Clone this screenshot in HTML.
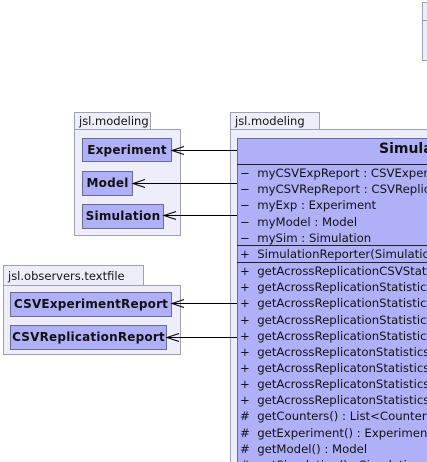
<!DOCTYPE html>
<html style="overflow:hidden;width:427px;height:462px"><head><meta charset="utf-8"><style>
body{margin:0;width:427px;height:462px;overflow:hidden;background:#fff;position:relative;font-family:"DejaVu Sans","Liberation Sans",sans-serif;}
div{position:absolute;box-sizing:border-box;}
.tab{background:#eeeefa;border:1px solid #a0a0b4;border-bottom:none;font-size:11.5px;color:#111;padding:1px 0 0 4px;}
.pkg{background:#eeeefa;border:1px solid #a0a0b4;}
.cls{background:#b0b0f8;border:1px solid #6a6a9a;font-weight:bold;font-size:12px;letter-spacing:0.2px;color:#111;text-align:center;line-height:23px;white-space:nowrap;overflow:hidden;}
.row{left:240px;width:187px;overflow:hidden;font-size:11.7px;color:#111;white-space:nowrap;height:16px;line-height:16px;}
.sep{height:1px;background:#222;left:237px;width:190px;}
</style></head><body>
<div style="left:422px;top:2px;width:5px;height:59px;border:1px solid #a0a0b4;border-right:none;background:#eeeefa"></div>
<div style="left:422px;top:20px;width:5px;height:1px;background:#a0a0b4"></div>

<div class="tab" style="left:74px;top:112px;width:77px;height:18px">jsl.modeling</div>
<div class="pkg" style="left:74px;top:129px;width:107px;height:107px"></div>
<div class="cls" style="left:82px;top:138px;width:90px;height:24px">Experiment</div>
<div class="cls" style="left:82px;top:171px;width:51px;height:25px">Model</div>
<div class="cls" style="left:82px;top:204px;width:82px;height:25px">Simulation</div>

<div class="tab" style="left:3px;top:265px;width:141px;height:21px;padding-top:3px">jsl.observers.textfile</div>
<div class="pkg" style="left:3px;top:285px;width:178px;height:70px"></div>
<div class="cls" style="left:10px;top:292px;width:162px;height:25px">CSVExperimentReport</div>
<div class="cls" style="left:10px;top:325px;width:157px;height:25px">CSVReplicationReport</div>

<div class="tab" style="left:230px;top:112px;width:90px;height:18px">jsl.modeling</div>
<div class="pkg" style="left:230px;top:129px;width:197px;height:333px;border-right:none;border-bottom:none"></div>
<div style="left:237px;top:138px;width:190px;height:324px;background:#b0b0f8;border-left:1px solid #6a6a9a;border-top:1px solid #6a6a9a;"></div>
<div style="left:379px;top:141px;width:48px;overflow:hidden;font-weight:bold;font-size:14px;color:#111;white-space:nowrap;">Simulation</div>
<div class="sep" style="top:164px"></div>
<div class="sep" style="top:245px"></div>
<div class="sep" style="top:262px"></div>
<div class="row" style="top:165px">−&nbsp; myCSVExpReport : CSVExperimentReport</div>
<div class="row" style="top:181px">−&nbsp; myCSVRepReport : CSVReplicationReport</div>
<div class="row" style="top:197px">−&nbsp; myExp : Experiment</div>
<div class="row" style="top:214px">−&nbsp; myModel : Model</div>
<div class="row" style="top:230px">−&nbsp; mySim : Simulation</div>
<div class="row" style="top:246px">+&nbsp; SimulationReporter(Simulation)</div>
<div class="row" style="top:263px">+&nbsp; getAcrossReplicationCSVStatistics</div>
<div class="row" style="top:279px">+&nbsp; getAcrossReplicationStatistics()</div>
<div class="row" style="top:295px">+&nbsp; getAcrossReplicationStatistics()</div>
<div class="row" style="top:312px">+&nbsp; getAcrossReplicationStatisticsAs</div>
<div class="row" style="top:328px">+&nbsp; getAcrossReplicationStatisticsAs</div>
<div class="row" style="top:344px">+&nbsp; getAcrossReplicatonStatisticsAs</div>
<div class="row" style="top:360px">+&nbsp; getAcrossReplicatonStatisticsAs</div>
<div class="row" style="top:376px">+&nbsp; getAcrossReplicatonStatisticsAs</div>
<div class="row" style="top:392px">+&nbsp; getAcrossReplicatonStatisticsAs</div>
<div class="row" style="top:408px">#&nbsp; getCounters() : List&lt;Counter&gt;</div>
<div class="row" style="top:425px">#&nbsp; getExperiment() : Experiment</div>
<div class="row" style="top:441px">#&nbsp; getModel() : Model</div>
<div class="row" style="top:457px;height:5px">#&nbsp; getSimulation() : Simulation</div>

<svg style="position:absolute;left:0;top:0" width="427" height="462">
<g stroke="#000" stroke-width="1" fill="none">
<path d="M172 150.5H237M184 146.5L172 150.5L184 154.5"/>
<path d="M133 183.5H237M145 179.5L133 183.5L145 187.5"/>
<path d="M164 215.5H237M176 211.5L164 215.5L176 219.5"/>
<path d="M172 303.5H237M184 299.5L172 303.5L184 307.5"/>
<path d="M167 337.5H237M179 333.5L167 337.5L179 341.5"/>
</g></svg>
</body></html>
